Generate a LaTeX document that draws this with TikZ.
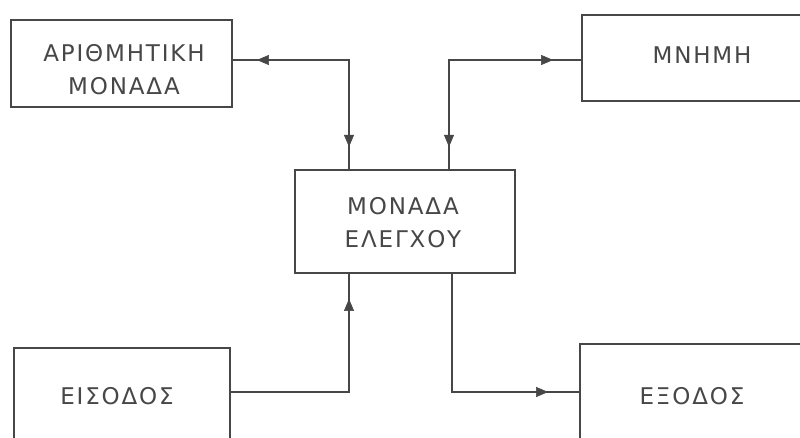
\documentclass[tikz,border=0pt]{standalone}
\usepackage{fontspec}
\setmainfont{DejaVu Sans}[LetterSpace=8]
\usetikzlibrary{arrows.meta,decorations.markings}
\definecolor{ink}{HTML}{474747}
\tikzset{
  box/.style={draw=ink, line width=2.2pt, rectangle, inner sep=0pt},
  txt/.style={align=center, inner sep=0pt, text=ink, font=\fontsize{23}{33}\selectfont},
  conn/.style={draw=ink, line width=2.2pt, postaction={decorate}},
  tiphead/.style={line width=0.6pt, ink},
}
\newcommand{\tipfwd}{\arrow[tiphead]{Triangle[length=12pt,width=10pt]}}
\newcommand{\tipbwd}{\arrowreversed[tiphead]{Triangle[length=12pt,width=10pt]}}
\begin{document}
\begin{tikzpicture}[x=1pt,y=-1pt]
\clip (0,0) rectangle (800,438);
\fill[white] (0,0) rectangle (800,438);

\node[box, minimum width=221pt, minimum height=87pt] (arith) at (121.5,63.5) {};
\node[txt] (arithT) at (124,70) {ΑΡΙΘΜΗΤΙΚΗ\\ΜΟΝΑΔΑ};
\node[box, minimum width=240pt, minimum height=86pt] (mem) at (702,58) {};
\node[txt] (memT) at (702,55) {ΜΝΗΜΗ};
\node[box, minimum width=220pt, minimum height=103pt] (ctrl) at (405,221.5) {};
\node[txt] (ctrlT) at (403,223) {ΜΟΝΑΔΑ\\ΕΛΕΓΧΟΥ};
\node[box, minimum width=216pt, minimum height=94pt] (inp) at (122,395) {};
\node[txt] (inpT) at (117,396) {ΕΙΣΟΔΟΣ};
\node[box, minimum width=224pt, minimum height=102pt] (out) at (692,395) {};
\node[txt] (outT) at (692,396) {ΕΞΟΔΟΣ};

\coordinate (c1) at (349,60);
\coordinate (c2) at (449,60);
\coordinate (c3) at (349,392);
\coordinate (c4) at (452,392);

\draw[conn, decoration={markings,
    mark=at position 22pt with {\tipbwd},
    mark=at position 201pt with {\tipfwd}}]
  (ctrl.north -| c1) -- (c1) -- (arith.east |- c1);
\draw[conn, decoration={markings,
    mark=at position 22pt with {\tipbwd},
    mark=at position 213pt with {\tipfwd}}]
  (ctrl.north -| c2) -- (c2) -- (mem.west |- c2);
\draw[conn, decoration={markings,
    mark=at position 211pt with {\tipfwd}}]
  (inp.east |- c3) -- (c3) -- (ctrl.south -| c3);
\draw[conn, decoration={markings,
    mark=at position 214pt with {\tipfwd}}]
  (ctrl.south -| c4) -- (c4) -- (out.west |- c4);
\end{tikzpicture}
\end{document}
